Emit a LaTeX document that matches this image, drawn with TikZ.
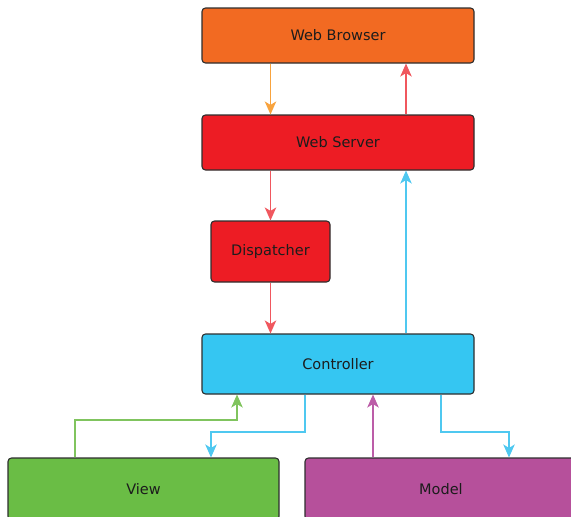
\documentclass[tikz,border=0pt]{standalone}
\usepackage{fontspec}
\setmainfont{DejaVu Sans}
\usetikzlibrary{arrows.meta}

\definecolor{browserfill}{HTML}{F26A22}
\definecolor{redfill}{HTML}{ED1C24}
\definecolor{cyanfill}{HTML}{35C6F2}
\definecolor{greenfill}{HTML}{6ABD45}
\definecolor{purplefill}{HTML}{B6509B}
\definecolor{edgecol}{HTML}{2E2E2E}
\definecolor{textcol}{HTML}{1C1C1C}
\definecolor{orangeline}{HTML}{F8A33E}
\definecolor{redline}{HTML}{F0575E}
\definecolor{cyanline}{HTML}{4FC8F0}
\definecolor{greenline}{HTML}{80C45E}
\definecolor{purpleline}{HTML}{BC5DA8}

\tikzset{
  box/.style={draw=edgecol, line width=1.1pt, rounded corners=3.5pt,
    inner sep=0pt, text=textcol, font=\fontsize{14.5}{16}\selectfont},
  flow/.style={line width=1.5pt,
    -{Stealth[length=13pt,width=11.5pt,inset=3.5pt]}},
}

\begin{document}
\begin{tikzpicture}[x=1pt,y=-1pt]
  \useasboundingbox (0,0) rectangle (571,517);
  \clip (0,0) rectangle (571,517);

  % boxes
  \node[box, fill=browserfill, minimum width=272pt, minimum height=55pt]
    (browser) at (338,35.5) {Web Browser};
  \node[box, fill=redfill, minimum width=272pt, minimum height=55pt]
    (server) at (338,142.5) {Web Server};
  \node[box, fill=redfill, minimum width=119pt, minimum height=61pt]
    (dispatcher) at (270.5,251.5) {Dispatcher};
  \node[box, fill=cyanfill, minimum width=272pt, minimum height=60pt]
    (controller) at (338,364) {Controller};
  \node[box, fill=greenfill, minimum width=271pt, minimum height=62pt]
    (view) at (143.5,489) {View};
  \node[box, fill=purplefill, minimum width=272pt, minimum height=62pt]
    (model) at (441,489) {Model};

  % request path
  \draw[flow, orangeline] (dispatcher.north |- browser.south) -- (dispatcher.north |- server.north);
  \draw[flow, redline] ([xshift=68pt]server.north) -- ([xshift=68pt]browser.south);
  \draw[flow, redline] (dispatcher.north |- server.south) -- (dispatcher.north);
  \draw[flow, redline] (dispatcher.south) -- (dispatcher.south |- controller.north);
  \draw[flow, cyanline] ([xshift=68pt]controller.north) -- ([xshift=68pt]server.south);

  % controller <-> view / model
  \coordinate (vlo) at (75,420);
  \coordinate (vhi) at (237,420);
  \draw[flow, greenline] (view.north -| vlo) -- (vlo) -- (vhi) -- (vhi |- controller.south);

  \coordinate (cva) at (305,432);
  \coordinate (cvb) at (211,432);
  \draw[flow, cyanline] (controller.south -| cva) -- (cva) -- (cvb) -- (cvb |- view.north);

  \coordinate (mc) at (373,420);
  \draw[flow, purpleline] (model.north -| mc) -- (mc |- controller.south);

  \coordinate (cma) at (441,432);
  \coordinate (cmb) at (509,432);
  \draw[flow, cyanline] (controller.south -| cma) -- (cma) -- (cmb) -- (cmb |- model.north);
\end{tikzpicture}
\end{document}
